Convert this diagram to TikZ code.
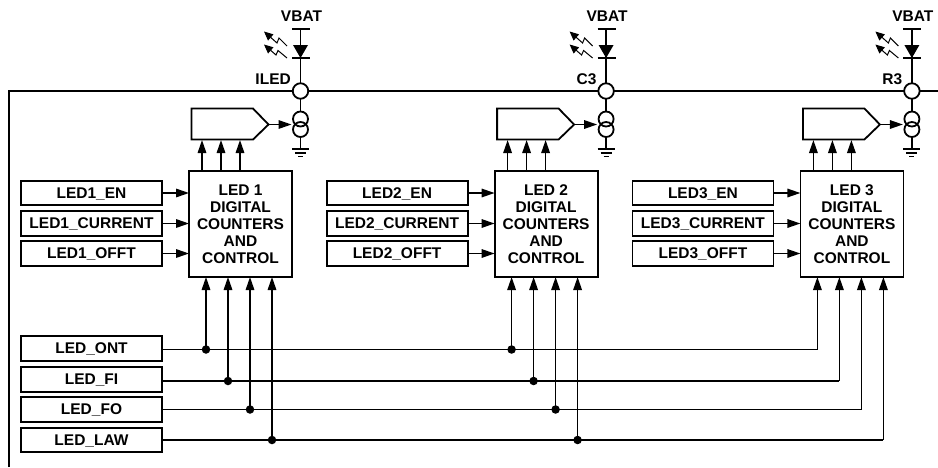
\documentclass[tikz,border=0pt]{standalone}
\usepackage{fontspec}
\setmainfont{Liberation Sans}
\usetikzlibrary{arrows.meta}
\tikzset{
  lab/.style={font=\fontsize{15.5}{17}\selectfont\bfseries,inner sep=0pt},
  regbox/.style={lab,draw,line width=1.8pt,minimum width=141pt,minimum height=24.5pt,outer sep=0pt,text height=10pt,text depth=0pt,fill=white},
  ctlbox/.style={lab,draw,line width=1.8pt,minimum width=103pt,minimum height=106pt,outer sep=0pt,align=center},
  pin/.style={circle,draw,line width=1.8pt,fill=white,minimum size=15.5pt,inner sep=0pt,outer sep=0pt},
  isrc/.style={circle,draw,line width=1.8pt,minimum size=15pt,inner sep=0pt,outer sep=0pt},
  wire/.style={line width=1.7pt},
  bus/.style={line width=1.5pt},
  arr/.style={line width=1.6pt,-{Triangle[length=13pt,width=8.5pt]}},
  smallarr/.style={line width=1pt,-{Triangle[length=9pt,width=8pt]}},
  junction/.style={circle,fill=black,minimum size=8.5pt,inner sep=0pt,outer sep=0pt},
}
\begin{document}
\begin{tikzpicture}[x=1pt,y=-1pt]
\useasboundingbox (0,0) rectangle (938,467);
% IC frame
\coordinate (frameB) at (9,467);
\coordinate (frameC) at (9,91);
\coordinate (frameE) at (938,91);
\draw[line width=2.1pt] (frameB) -- (frameC) -- (frameE);
\foreach \i/\dx/\pinlab in {1/0/ILED,2/305.6/C3,3/611.4/R3}{
\begin{scope}[shift={(\dx,0)}]
  % supply, LED
  \node[lab] (vbat\i) at (301.5,16) {VBAT};
  \coordinate (rail\i) at (300.5,29);
  \node[pin] (pin\i) at (300.5,91) {};
  \node[lab,anchor=east,text height=11pt,text depth=0pt] (pinlab\i) at (291,79) {\pinlab};
  \draw[wire] (rail\i) -- (pin\i.north);
  \draw[wire] (292,29) -- (310,29);
  \draw[wire] (292,58) -- (310,58);
  \fill (293,45) -- (308,45) -- (300.5,58) -- cycle;
  \draw[smallarr] (287,46) -- (279,38) -- (277,43) -- (264,31.5);
  \draw[smallarr] (287,58) -- (278,50.5) -- (276,55) -- (264,44.5);
  % current source and ground
  \node[isrc] (up\i) at (300.5,119) {};
  \node[isrc] (lo\i) at (300.5,129.5) {};
  \coordinate (gnd\i) at (300.5,149);
  \draw[wire] (pin\i.south) -- (up\i.north);
  \draw[wire] (lo\i.south) -- (gnd\i);
  \draw[wire] (292,149) -- (309,149);
  \draw[wire] (295,153) -- (306,153);
  \draw[wire] (298,156.5) -- (303,156.5);
  % DAC
  \draw[line width=1.8pt,line join=miter] (191.5,108.5) -- (253,108.5) -- (268.5,124.5) -- (253,139.5) -- (191.5,139.5) -- cycle;
  \coordinate (dactip\i) at (268.5,124.5);
  \draw[arr] (dactip\i) -- (291.5,124.5);
  % control block
  \node[ctlbox] (block\i) at (240.5,224) {LED \i\\DIGITAL\\COUNTERS\\AND\\CONTROL};
  \coordinate (da\i) at (202,140);
  \coordinate (db\i) at (221,140);
  \coordinate (dc\i) at (240,140);
  \draw[arr] (da\i |- block\i.north) -- (da\i);
  \draw[arr] (db\i |- block\i.north) -- (db\i);
  \draw[arr] (dc\i |- block\i.north) -- (dc\i);
  % registers
  \node[regbox] (en\i) at (91.5,193) {LED\i\_EN};
  \node[regbox] (cur\i) at (91.5,223.5) {LED\i\_CURRENT};
  \node[regbox] (off\i) at (91.5,253.5) {LED\i\_OFFT};
  \draw[arr] (en\i.east) -- (block\i.west |- en\i.east);
  \draw[arr] (cur\i.east) -- (block\i.west |- cur\i.east);
  \draw[arr] (off\i.east) -- (block\i.west |- off\i.east);
  % bus taps
  \coordinate (ont\i) at (206,349.5);
  \coordinate (fi\i) at (228,381);
  \coordinate (fo\i) at (250,409.5);
  \coordinate (law\i) at (272,440);
\end{scope}
}
% global registers
\node[regbox] (ont) at (91.5,348.5) {LED\_ONT};
\node[regbox] (fi) at (91.5,379.5) {LED\_FI};
\node[regbox] (fo) at (91.5,409.5) {LED\_FO};
\node[regbox] (law) at (91.5,440) {LED\_LAW};
\draw[bus] (ont.east |- ont1) -- (ont3);
\draw[bus] (fi.east |- fi1) -- (fi3);
\draw[bus] (fo.east |- fo1) -- (fo3);
\draw[bus] (law.east |- law1) -- (law3);
\foreach \i in {1,2,3}{
  \draw[arr] (ont\i) -- (ont\i |- block\i.south);
  \draw[arr] (fi\i) -- (fi\i |- block\i.south);
  \draw[arr] (fo\i) -- (fo\i |- block\i.south);
  \draw[arr] (law\i) -- (law\i |- block\i.south);
}
\foreach \i in {1,2}{
  \node[junction] (jont\i) at (ont\i) {};
  \node[junction] (jfi\i) at (fi\i) {};
  \node[junction] (jfo\i) at (fo\i) {};
  \node[junction] (jlaw\i) at (law\i) {};
}
\end{tikzpicture}
\end{document}
